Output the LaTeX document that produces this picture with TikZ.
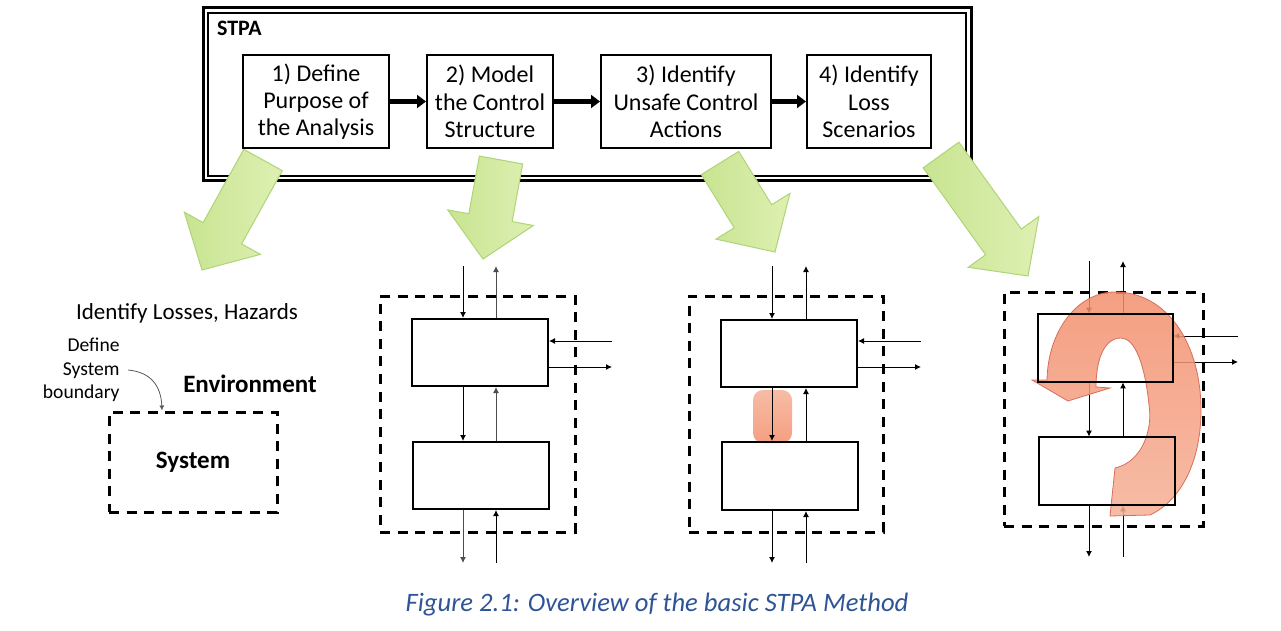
\documentclass[tikz,border=0pt]{standalone}
\usepackage{fontspec}
\setmainfont{Carlito}
\usetikzlibrary{calc,fit,arrows.meta}
\definecolor{gA}{RGB}{200,228,145}
\definecolor{gB}{RGB}{222,240,178}
\definecolor{gE}{RGB}{175,212,120}
\definecolor{rA}{RGB}{242,142,108}
\definecolor{rB}{RGB}{246,176,150}
\definecolor{rE}{RGB}{215,110,90}
\definecolor{capblue}{RGB}{47,84,150}
\tikzset{
 stepbox/.style={draw, line width=1pt, fill=white, inner sep=0pt},
 steptext/.style={align=center, inner sep=0pt, font=\fontsize{12}{13.6}\selectfont},
 blk/.style={draw, line width=1pt, inner sep=0pt},
 dashbox/.style={draw, line width=1.5pt, dash pattern=on 5pt off 3.8pt, inner sep=0pt},
 conn/.style={line width=0.5pt, -{Latex[length=3pt,width=3pt]}},
 flowarr/.style={line width=2.2pt, -{Triangle[length=4.5pt,width=6.5pt]}},
 greenarr/.style={draw=gE, line width=0.5pt, left color=gA, right color=gB},
}
\newcommand\greenarrow[3]{%
 \coordinate (#1t) at #2; \coordinate (#1p) at #3;
 \coordinate (#1h) at ($(#1p)!21pt!(#1t)$);
 \path[greenarr] ($(#1t)!11pt!90:(#1p)$) -- ($(#1h)!11pt!90:(#1p)$) -- ($(#1h)!21.75pt!90:(#1p)$) -- (#1p) -- ($(#1h)!21.75pt!-90:(#1p)$) -- ($(#1h)!11pt!-90:(#1p)$) -- ($(#1t)!11pt!-90:(#1p)$) -- cycle;
}
\begin{document}
\begin{tikzpicture}[x=0.5pt,y=-0.5pt]
\useasboundingbox (0,0) rectangle (1281,631);
% STPA frame
\node[draw, line width=1.5pt, inner sep=0pt, fit={(203,8)(971,181)}] (frameO) {};
\node[draw, line width=0.8pt, inner sep=0pt, fit={(208,13)(966,176)}] (frameI) {};
\node[anchor=west, font=\bfseries\fontsize{11}{13}\selectfont] (stpaT) at (210,28) {STPA};
% green arrows
\greenarrow{ga}{(263,160)}{(202,270)}
\greenarrow{gb}{(501,160)}{(483,259)}
\greenarrow{gc}{(720,163)}{(775,252)}
\greenarrow{gd}{(941,155)}{(1028,276)}
% steps
\node[stepbox, fit={(243,55)(389,148)}] (s1) {};
\node[stepbox, fit={(427,55)(553,148)}] (s2) {};
\node[stepbox, fit={(601,55)(771,148)}] (s3) {};
\node[stepbox, fit={(807,55)(931,148)}] (s4) {};
\node[steptext] (t1) at (s1.center) {1) Define\\Purpose of\\the Analysis};
\node[steptext] (t2) at (s2.center) {2) Model\\the Control\\Structure};
\node[steptext] (t3) at (s3.center) {3) Identify\\Unsafe Control\\Actions};
\node[steptext] (t4) at (s4.center) {4) Identify\\Loss\\Scenarios};
\draw[flowarr] (s1.east) -- (s2.west);
\draw[flowarr] (s2.east) -- (s3.west);
\draw[flowarr] (s3.east) -- (s4.west);
% left panel
\node[font=\fontsize{11.5}{14}\selectfont] (ilh) at (187,313) {Identify Losses, Hazards};
\node[align=right, anchor=east, inner sep=0pt, font=\fontsize{9.8}{11.8}\selectfont] (dsb) at (120,370) {Define\\System\\boundary};
\node[font=\bfseries\fontsize{12.5}{15}\selectfont] (env) at (250,384) {Environment};
\node[dashbox, fit={(109,412)(277,512)}] (sys) {};
\node[font=\bfseries\fontsize{12.5}{15}\selectfont, inner sep=0pt] (syst) at (sys.center) {System};
\coordinate (sysb) at (162,0);
\draw[line width=0.4pt, draw=gray!70!black, -{Latex[length=2.5pt,width=2.5pt]}] ([xshift=4pt]dsb.east) .. controls (150,372) and (161,385) .. (sys.north -| sysb);
% panel 2
\node[dashbox, fit={(380,296)(575,532)}] (d2) {};
\node[blk, fit={(412,319)(548,386)}] (u2) {};
\node[blk, fit={(413,442)(549,509)}] (l2) {};
\coordinate (c2a) at (463,266); \coordinate (c2b) at (496,266);
\coordinate (c2c) at (463,563); \coordinate (c2d) at (496,563);
\coordinate (c2e) at (612,341); \coordinate (c2f) at (612,367);
\draw[conn] (c2a) -- (c2a |- u2.north);
\draw[conn, gray!60!black] (c2b |- u2.north) -- (c2b);
\draw[conn] (c2a |- u2.south) -- (c2a |- l2.north);
\draw[conn, gray!60!black] (c2b |- l2.north) -- (c2b |- u2.south);
\draw[conn, gray!60!black] (c2c |- l2.south) -- (c2c);
\draw[conn] (c2d) -- (c2d |- l2.south);
\draw[conn] (c2e) -- (c2e -| u2.east);
\draw[conn] (c2f -| u2.east) -- (c2f);
% panel 3
\node[dashbox, fit={(689,296)(883,532)}] (d3) {};
\node[rounded corners=5pt, inner sep=0pt, top color=rB, bottom color=rA, fill opacity=0.85, fit={(753,390)(792,443)}] (hl3) {};
\node[blk, fit={(721,320)(857,387)}] (u3) {};
\node[blk, fit={(722,442)(858,510)}] (l3) {};
\coordinate (c3a) at (772,266); \coordinate (c3b) at (806,266);
\coordinate (c3c) at (772,563); \coordinate (c3d) at (806,563);
\coordinate (c3e) at (921,341); \coordinate (c3f) at (921,367);
\draw[conn] (c3a) -- (c3a |- u3.north);
\draw[conn] (c3b |- u3.north) -- (c3b);
\draw[conn] (c3a |- u3.south) -- (c3a |- l3.north);
\draw[conn] (c3b |- l3.north) -- (c3b |- u3.south);
\draw[conn] (c3c |- l3.south) -- (c3c);
\draw[conn] (c3d) -- (c3d |- l3.south);
\draw[conn] (c3e) -- (c3e -| u3.east);
\draw[conn] (c3f -| u3.east) -- (c3f);
% panel 4
\node[dashbox, fit={(1004,292)(1203,526)}] (d4) {};
\coordinate (c4a) at (1089,261); \coordinate (c4b) at (1123,261);
\coordinate (c4c) at (1089,557); \coordinate (c4d) at (1123,557);
\coordinate (c4e) at (1238,336); \coordinate (c4f) at (1238,362);
\node[inner sep=0pt, fit={(1038,314)(1173,382)}] (u4) {};
\node[inner sep=0pt, fit={(1039,437)(1175,505)}] (l4) {};
\draw[conn] (c4a) -- (c4a |- u4.north);
\draw[conn] (c4b |- u4.north) -- (c4b);
\draw[conn] (c4a |- u4.south) -- (c4a |- l4.north);
\draw[conn] (c4b |- l4.north) -- (c4b |- u4.south);
\draw[conn] (c4c |- l4.south) -- (c4c);
\draw[conn] (c4d) -- (c4d |- l4.south);
\draw[conn] (c4e) -- (c4e -| u4.east);
\draw[conn] (c4f -| u4.east) -- (c4f);
\path[draw=rE, line width=0.4pt, top color=rA, bottom color=rB, fill opacity=0.85]
 (1110,516) -- (1115,468)
 .. controls (1142,462) and (1153,430) .. (1149,405)
 .. controls (1145,365) and (1135,338) .. (1121,338)
 .. controls (1104,338) and (1096,360) .. (1096,387)
 -- (1110,388) -- (1068,401) -- (1032,380) -- (1047,380)
 .. controls (1048,330) and (1078,292) .. (1115,292)
 .. controls (1168,292) and (1201,345) .. (1201,410)
 .. controls (1201,460) and (1182,500) .. (1150,515)
 -- cycle;
\draw[line width=1pt] (u4.north west) rectangle (u4.south east);
\draw[line width=1pt] (l4.north west) rectangle (l4.south east);
% caption
\node[font=\itshape\fontsize{13.3}{15}\selectfont, text=capblue] (cap) at (657,605) {Figure 2.1: Overview of the basic STPA Method};
\end{tikzpicture}
\end{document}
